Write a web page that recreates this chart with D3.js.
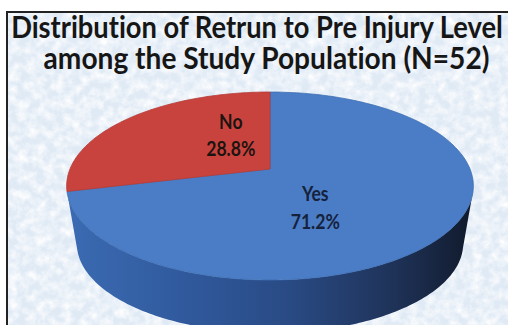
<!DOCTYPE html>
<html>
<head>
<meta charset="utf-8">
<script src="https://cdn.jsdelivr.net/npm/d3@7"></script>
<style>
body { margin: 0; background: #fff; }
svg { display: block; }
text { font-variant-ligatures: none; font-feature-settings: "liga" 0, "clig" 0; }
</style>
</head>
<body>
<svg id="chart" width="508" height="325"></svg>
<script>
// chart data
var categories = ["Yes", "No"];
var values = [71.2, 28.8];
var titleLines = ["Distribution of Retrun to Pre Injury Level", "among the Study Population (N=52)"];

var topColors = {"Yes": "#4a7dc6", "No": "#c9433e"};
var edgeColors = {"Yes": "#3e6db2", "No": "#b43a35"};
var FONT = "Lato, 'Open Sans', sans-serif";

var svg = d3.select("#chart");
var defs = svg.append("defs");

// background texture
var tex = defs.append("filter").attr("id", "tex").attr("x", 0).attr("y", 0).attr("width", 1).attr("height", 1);
tex.append("feTurbulence").attr("type", "fractalNoise").attr("baseFrequency", 0.11)
    .attr("numOctaves", 4).attr("seed", 11);
tex.append("feColorMatrix").attr("type", "matrix")
    .attr("values", "0 0 0 0 1  0 0 0 0 1  0 0 0 0 1  1.8 0 0 0 -0.6");

svg.append("rect").attr("x", 7).attr("y", 12).attr("width", 501).attr("height", 313).attr("fill", "#e0eaf5");
svg.append("rect").attr("x", 7).attr("y", 12).attr("width", 501).attr("height", 313).attr("filter", "url(#tex)");

// frame (top + left lines only)
svg.append("path").attr("d", "M7,325V12H508").attr("fill", "none").attr("stroke", "#222").attr("stroke-width", 2);

// perspective view of the pie top, wall drawn toward a vertical vanishing point
var view = {cx: 270, cy: 169, f: 985, dist: 4.925, tilt: 27.04 * Math.PI / 180, vanishY: 1340, wall: 0.95};
var cosT = Math.cos(view.tilt), sinT = Math.sin(view.tilt);

function project(theta, r) {
    let X = r * Math.sin(theta), Z = r * Math.cos(theta);
    let d = view.dist + Z * cosT;
    return [view.cx + view.f * X / d, view.cy - view.f * Z * sinT / d];
}
function projectBottom(theta) {
    let p = project(theta, 1);
    return [view.cx + (p[0] - view.cx) * view.wall, view.vanishY + (p[1] - view.vanishY) * view.wall];
}

function arcPoints(a0, a1, fn) {
    let n = Math.max(2, Math.ceil(Math.abs(a1 - a0) / (Math.PI / 180)));
    return d3.range(n + 1).map(i => fn(a0 + (a1 - a0) * i / n));
}

var pie = d3.pie().sort(null).value(d => d.value);
var slices = pie(categories.map((c, i) => ({name: c, value: values[i]})));

// side gradients
var sideGrad = {
    "Yes": [["0%", "#3b6bb3"], ["30%", "#30599c"], ["55%", "#294a84"], ["80%", "#1f3359"], ["100%", "#111a2c"]],
    "No": [["0%", "#a8322e"], ["100%", "#5a1816"]]
};
Object.keys(sideGrad).forEach(function(k) {
    let g = defs.append("linearGradient").attr("id", "side_" + k)
        .attr("gradientUnits", "userSpaceOnUse")
        .attr("x1", 67).attr("x2", 473).attr("y1", 0).attr("y2", 0);
    sideGrad[k].forEach(s => g.append("stop").attr("offset", s[0]).attr("stop-color", s[1]));
});

// visible part of the outer wall
var visMin = Math.acos(-1 / (view.dist * cosT)), visMax = 2 * Math.PI - visMin;

var pieG = svg.append("g");
var line = d3.line();

slices.forEach(function(s) {
    let a0 = Math.max(s.startAngle, visMin), a1 = Math.min(s.endAngle, visMax);
    if (a1 - a0 < Math.PI / 180) return;
    let pts = arcPoints(a0, a1, t => project(t, 1)).concat(arcPoints(a1, a0, projectBottom));
    pieG.append("path").attr("d", line(pts) + "Z")
        .attr("fill", "url(#side_" + s.data.name + ")");
});

slices.forEach(function(s) {
    let pts = [project(0, 0)].concat(arcPoints(s.startAngle, s.endAngle, t => project(t, 1)));
    pieG.append("path").attr("d", line(pts) + "Z")
        .attr("fill", topColors[s.data.name])
        .attr("stroke", edgeColors[s.data.name]).attr("stroke-width", 0.8)
        .attr("stroke-linejoin", "round");
});

// title: squeezed horizontally to the reference widths
var titleSpec = [{x: 257, y: 38, w: 492}, {x: 266.5, y: 69, w: 446}];
var title = svg.append("g").attr("font-family", FONT).attr("font-weight", "bold").attr("fill", "#161616")
    .attr("font-size", 30).attr("text-anchor", "middle");
titleLines.forEach(function(txt, i) {
    let spec = titleSpec[i];
    let t = title.append("text").text(txt);
    let k = spec.w / t.node().getComputedTextLength();
    t.attr("transform", "translate(" + spec.x + "," + spec.y + ") scale(" + k + ",1)");
});

// data labels
var labelColors = {"Yes": "#16223c", "No": "#1c1410"};
var labelG = svg.append("g").attr("font-family", FONT).attr("font-weight", "bold")
    .attr("font-size", 20).attr("text-anchor", "middle");
slices.forEach(function(s) {
    let mid = (s.startAngle + s.endAngle) / 2 + 24 * Math.PI / 180;
    let p = project(mid, 0.45);
    let pct = (s.data.value).toFixed(1) + "%";
    let g = labelG.append("g")
        .attr("transform", "translate(" + p[0] + "," + p[1] + ") scale(0.88,1)")
        .attr("fill", labelColors[s.data.name]);
    g.append("text").attr("y", -13.8).attr("dy", "0.36em").text(s.data.name);
    g.append("text").attr("y", 13.8).attr("dy", "0.36em").text(pct);
});
</script>
</body>
</html>
